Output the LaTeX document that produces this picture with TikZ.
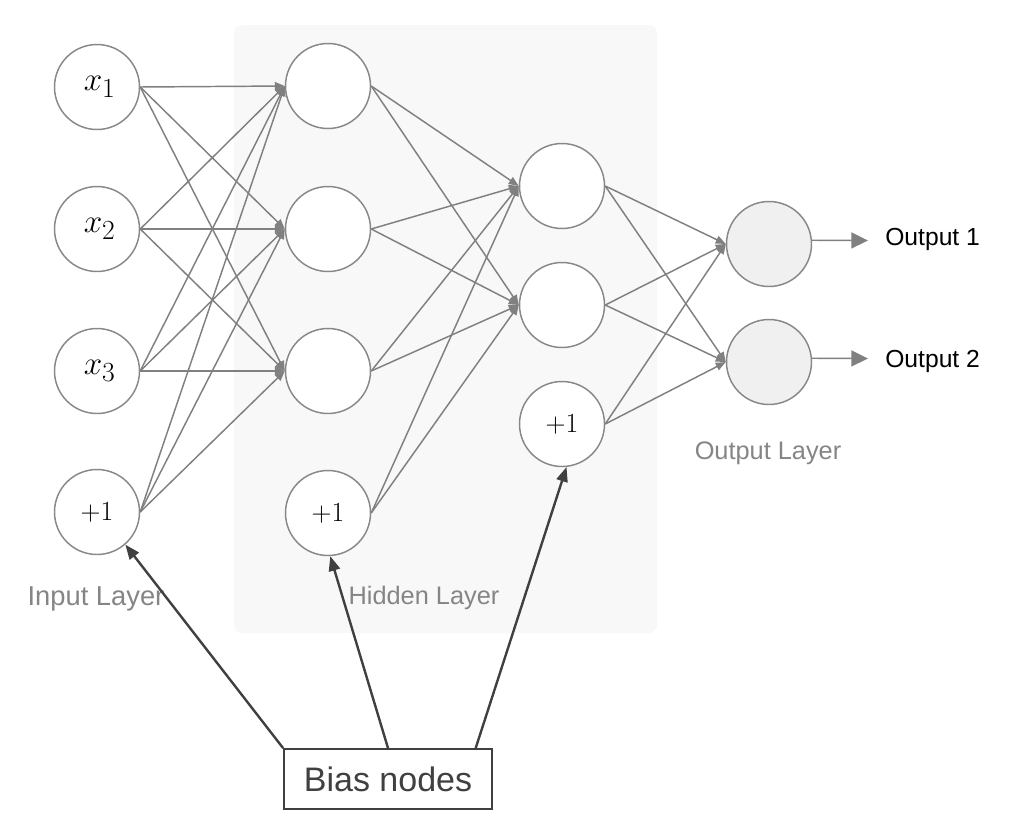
\documentclass[tikz,border=0pt]{standalone}
\usepackage{fontspec}
\newfontfamily\arial{Liberation Sans}
\usetikzlibrary{arrows.meta,calc}
\definecolor{edgegray}{HTML}{808080}
\definecolor{circgray}{HTML}{888888}
\definecolor{labgray}{HTML}{858585}
\definecolor{hiddenbg}{HTML}{F8F8F8}
\definecolor{outfill}{HTML}{F0F0F0}
\definecolor{darkline}{HTML}{404040}
\begin{document}
\begin{tikzpicture}[x=0.75pt,y=-0.75pt,
  neuron/.style={circle,draw=circgray,line width=1.1pt,minimum size=63.75pt,inner sep=0pt,fill=white},
  outneuron/.style={neuron,fill=outfill},
  edge/.style={draw=edgegray,line width=1.1pt,-{Triangle[length=7.5pt,width=6pt]}},
  outarrow/.style={draw=edgegray,line width=1.1pt,-{Triangle[length=12.5pt,width=12pt]}},
  biasarrow/.style={draw=darkline,line width=1.8pt,-{Triangle[length=11pt,width=8.5pt]}},
  layerlabel/.style={text=labgray,font=\arial\fontsize{19}{22}\selectfont,anchor=base,inner sep=0pt},
  outlabel/.style={text=black,font=\arial\fontsize{18.5}{22}\selectfont,anchor=base west,inner sep=0pt},
  mathlbl/.style={font=\fontsize{30}{34}\selectfont},
  onelbl/.style={font=\fontsize{21}{24}\selectfont}
]
\useasboundingbox (0,0) rectangle (1016,836);
% hidden layer background
\fill[hiddenbg,rounded corners=6pt] (234,25) rectangle (657,633);

% input layer
\node[neuron,mathlbl] (i1) at (97,87) {\hspace{4pt}$x_1$};
\node[neuron,mathlbl] (i2) at (97,229) {\hspace{4pt}$x_2$};
\node[neuron,mathlbl] (i3) at (97,371) {\hspace{4pt}$x_3$};
\node[neuron,onelbl] (ib) at (97,512) {$+1$};
% hidden layer 1
\node[neuron] (h1) at (328,86) {};
\node[neuron] (h2) at (328,229) {};
\node[neuron] (h3) at (328,371) {};
\node[neuron,onelbl] (hb) at (328,513) {$+1$};
% hidden layer 2
\node[neuron] (k1) at (562,186) {};
\node[neuron] (k2) at (562,305) {};
\node[neuron,onelbl] (kb) at (562,424) {$+1$};
% output layer
\node[outneuron] (o1) at (769,244) {};
\node[outneuron] (o2) at (769,362) {};

% edges
\foreach \s in {i1,i2,i3,ib}
  \foreach \t in {h1,h2,h3}
    \draw[edge] (\s.east) -- (\t.west);
\foreach \s in {h1,h2,h3,hb}
  \foreach \t in {k1,k2}
    \draw[edge] (\s.east) -- (\t.west);
\foreach \s in {k1,k2,kb}
  \foreach \t in {o1,o2}
    \draw[edge] (\s.east) -- (\t.west);

% outputs
\coordinate (e1) at (868,240.5);
\coordinate (e2) at (868,358.5);
\draw[outarrow] (o1.5) -- (e1);
\draw[outarrow] (o2.5) -- (e2);
\node[outlabel] (ol1) at (885,245) {Output 1};
\node[outlabel] (ol2) at (885,367) {Output 2};

% layer labels
\node[layerlabel,font=\arial\fontsize{20.5}{24}\selectfont] (li) at (96,605) {Input Layer};
\node[layerlabel] (lh) at (424,604) {Hidden Layer};
\node[layerlabel] (lo) at (768,459) {Output Layer};

% bias box
\node[draw=darkline,line width=1.3pt,minimum width=156pt,minimum height=45pt,inner sep=0pt,
      text=darkline,font=\arial\fontsize{25.5}{30}\selectfont] (bias) at (388,779) {Bias nodes};
\coordinate (b3) at ($(bias.north west)!0.918!(bias.north east)$);
\draw[biasarrow] (bias.north west) -- (ib.-49);
\draw[biasarrow] (bias.north) -- (hb.-87);
\draw[biasarrow] (b3) -- (kb.-84);
\end{tikzpicture}
\end{document}
